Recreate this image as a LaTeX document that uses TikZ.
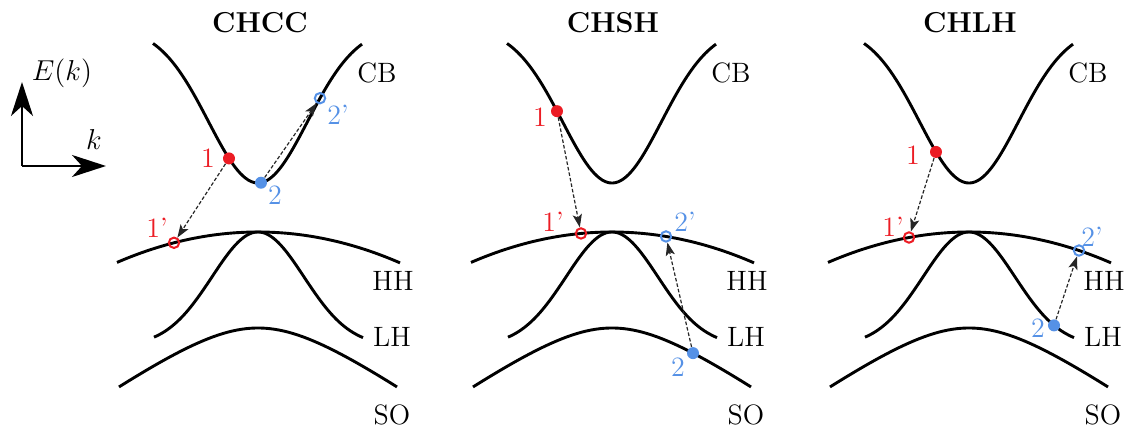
\documentclass[tikz,border=0pt]{standalone}
\usetikzlibrary{arrows.meta}
\definecolor{mred}{RGB}{236,28,36}
\definecolor{mblue}{RGB}{85,145,230}
\newcommand\drawbands[1]{%
  \draw[band] plot[domain=-105:104,samples=80] ({\x},{cb(\x)});
  \draw[band] plot[domain=-141:142,samples=60] ({\x},{hh(\x)});
  \draw[band] plot[domain=-104:105,samples=80] ({\x},{lh(\x)});
  \draw[band] plot[domain=-139:139,samples=60] ({\x},{so(\x)});
  \node[lbl] (#1cb) at (119,73) {CB};
  \node[lbl] (#1hh) at (135,281) {HH};
  \node[lbl] (#1lh) at (134,337) {LH};
  \node[lbl] (#1so) at (134,415) {SO};
}
\begin{document}
\begin{tikzpicture}[x=0.5pt,y=-0.5pt,
  band/.style={line width=1.45pt, black},
  lbl/.style={font=\fontsize{14}{16}\selectfont, inner sep=0pt},
  ttl/.style={font=\fontsize{14.4}{17}\selectfont\bfseries, inner sep=0pt},
  rlbl/.style={lbl, text=mred},
  blbl/.style={lbl, text=mblue},
  fdot/.style={circle, inner sep=0pt, minimum size=6pt, fill=#1},
  odot/.style={circle, inner sep=0pt, minimum size=5.2pt, draw=#1, line width=1pt},
  trans/.style={-{Stealth[length=6.5pt,width=4.6pt,inset=1.5pt]}, dash pattern=on 1.8pt off 1pt, line width=0.6pt, black!85},
  axis/.style={line width=1.3pt, -{Stealth[length=17pt,width=11pt,inset=5pt]}},
  declare function={
    cb(\x)=183-156*(1-exp(-(\x/70)^2));
    hh(\x)=232+30*(\x/140)^2;
    lh(\x)=232+114*(1-exp(-(\x/65)^2));
    so(\x)=328+53.3*(sqrt(1+(\x/75)^2)-1);
  }
]
\useasboundingbox (0,0) rectangle (1131,431);
% axes
\coordinate (o) at (22,166);
\coordinate (ey) at (22,82);
\coordinate (ek) at (106,166);
\draw[axis] (o) -- (ey);
\draw[axis] (o) -- (ek);
\node[lbl] (elab) at (62,73) {$E(k)$};
\node[lbl] (klab) at (94,140) {$k$};
% panel 1
\begin{scope}[shift={(258,0)}]
  \node[ttl] (t1) at (2,23) {CHCC};
  \drawbands{a}
  \node[fdot=mred] (a1) at ({-29},{cb(-29)}) {};
  \node[odot=mred] (a1p) at ({-84},{hh(-84)}) {};
  \node[fdot=mblue] (a2) at ({3},{cb(3)}) {};
  \node[odot=mblue] (a2p) at ({62},{cb(62)}) {};
  \draw[trans] (a1) -- (a1p);
  \draw[trans] (a2) -- (a2p);
  \node[rlbl] (a1l) at (-50,158) {1};
  \node[rlbl] (a1pl) at (-101,228) {1'};
  \node[blbl] (a2l) at (17,195) {2};
  \node[blbl] (a2pl) at (80,115) {2'};
\end{scope}
% panel 2
\begin{scope}[shift={(612,0)}]
  \node[ttl] (t2) at (1,23) {CHSH};
  \drawbands{b}
  \node[fdot=mred] (b1) at ({-55},{cb(-55)}) {};
  \node[odot=mred] (b1p) at ({-31},{hh(-31)}) {};
  \node[fdot=mblue] (b2) at ({81},{so(81)}) {};
  \node[odot=mblue] (b2p) at ({54},{hh(54)}) {};
  \draw[trans] (b1) -- (b1p);
  \draw[trans] (b2) -- (b2p);
  \node[rlbl] (b1l) at (-72,117) {1};
  \node[rlbl] (b1pl) at (-59,222) {1'};
  \node[blbl] (b2l) at (66,367) {2};
  \node[blbl] (b2pl) at (73,222) {2'};
\end{scope}
% panel 3
\begin{scope}[shift={(969,0)}]
  \node[ttl] (t3) at (1,23) {CHLH};
  \drawbands{c}
  \node[fdot=mred] (c1) at ({-33},{cb(-33)}) {};
  \node[odot=mred] (c1p) at ({-60},{hh(-60)}) {};
  \node[fdot=mblue] (c2) at ({85},{lh(85)}) {};
  \node[odot=mblue] (c2p) at ({110},{hh(110)}) {};
  \draw[trans] (c1) -- (c1p);
  \draw[trans] (c2) -- (c2p);
  \node[rlbl] (c1l) at (-56,155) {1};
  \node[rlbl] (c1pl) at (-76,227) {1'};
  \node[blbl] (c2l) at (69,328) {2};
  \node[blbl] (c2pl) at (123,237) {2'};
\end{scope}
\end{tikzpicture}
\end{document}
